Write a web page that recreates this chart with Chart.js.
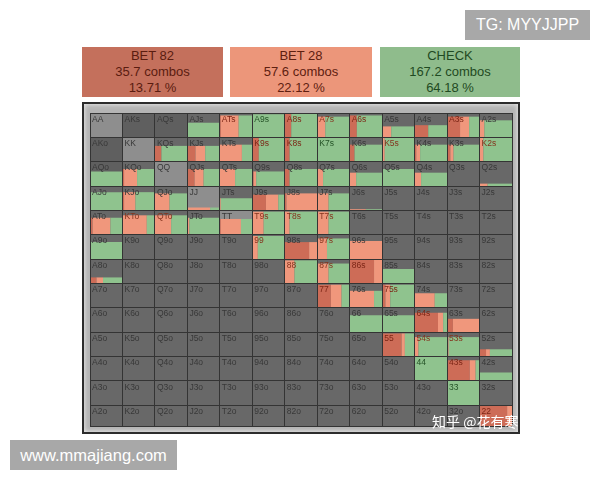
<!DOCTYPE html>
<html>
<head>
<meta charset="utf-8">
<script src="https://cdn.jsdelivr.net/npm/chart.js@4"></script>
<style>
    html, body { margin: 0; padding: 0; background: #fff; }
    body { width: 600px; height: 480px; position: relative; overflow: hidden; font-family: "Liberation Sans", Arial, sans-serif; }
    .stamp { position: absolute; background: #a8a8a8; color: #fff; text-align: center; }
    #tg { left: 465px; top: 10px; width: 125px; height: 30px; line-height: 30px; font-size: 16px; }
    #site { left: 10px; top: 440px; width: 167px; height: 30px; line-height: 30px; font-size: 16.5px; }
    .action { position: absolute; top: 47px; height: 50px; font-size: 13px; line-height: 16px; text-align: center; padding-top: 1px; box-sizing: border-box; }
    #frame { position: absolute; left: 82px; top: 102px; width: 438px; height: 332px; box-sizing: border-box;
        border: 2px solid #2c2c2c; background: #b4b4b4; box-shadow: inset 0 0 5px #f2f2f2; }
    #timeChart { position: absolute; left: 88px; top: 111px; filter: blur(0.6px); }
    #zhihu { position: absolute; left: 432px; top: 411px; color: #fff; font: 14px "Noto Sans CJK SC", sans-serif; white-space: nowrap; }
</style>
</head>
<body>
<div class="stamp" id="tg">TG: MYYJJPP</div>
<div id="frame"></div>
<canvas id="timeChart" width="426" height="317"></canvas>
<div id="zhihu">知乎 @花有寒</div>
<div class="stamp" id="site">www.mmajiang.com</div>
<script>
const ranks = ["A", "K", "Q", "J", "T", "9", "8", "7", "6", "5", "4", "3", "2"];

const actionNames = ["BET 82", "BET 28", "CHECK"];
const actionCombos = ["35.7 combos", "57.6 combos", "167.2 combos"];
const actionPercents = ["13.71 %", "22.12 %", "64.18 %"];

// how much of each hand is played at all (bar height in the cell), row by row
const weight = [
    [0, 0, 0, 60, 90, 95, 100, 85, 90, 45, 50, 85, 70],
    [0, 0, 65, 65, 70, 100, 100, 100, 70, 100, 70, 70, 100],
    [60, 70, 0, 70, 70, 60, 70, 70, 55, 70, 55, 0, 10],
    [75, 75, 70, 12, 50, 65, 70, 70, 5, 0, 0, 0, 0],
    [70, 80, 80, 70, 65, 95, 95, 95, 0, 0, 0, 0, 0],
    [70, 0, 0, 0, 0, 95, 70, 85, 75, 0, 0, 0, 0],
    [25, 0, 0, 0, 0, 0, 95, 82, 100, 60, 0, 0, 0],
    [0, 0, 0, 0, 0, 0, 0, 95, 70, 95, 60, 0, 0],
    [0, 0, 0, 0, 0, 0, 0, 0, 70, 70, 80, 55, 0],
    [0, 0, 0, 0, 0, 0, 0, 0, 0, 95, 80, 80, 30],
    [0, 0, 0, 0, 0, 0, 0, 0, 0, 0, 100, 85, 35],
    [0, 0, 0, 0, 0, 0, 0, 0, 0, 0, 0, 100, 0],
    [0, 0, 0, 0, 0, 0, 0, 0, 0, 0, 0, 0, 100]
];

// share of each action inside the played part, in percent
const bet82 = [
    [0, 0, 0, 0, 3, 0, 20, 0, 22, 0, 42, 40, 0],
    [0, 0, 20, 25, 0, 20, 15, 0, 15, 0, 5, 10, 0],
    [0, 5, 0, 22, 0, 4, 15, 0, 0, 0, 0, 0, 0],
    [0, 5, 0, 0, 0, 42, 5, 0, 0, 0, 0, 0, 0],
    [8, 0, 0, 0, 3, 0, 0, 0, 0, 0, 0, 0, 0],
    [0, 0, 0, 0, 0, 0, 75, 0, 0, 0, 0, 0, 0],
    [20, 0, 0, 0, 0, 0, 0, 0, 75, 0, 0, 0, 0],
    [0, 0, 0, 0, 0, 0, 0, 42, 0, 10, 0, 0, 0],
    [0, 0, 0, 0, 0, 0, 0, 0, 0, 0, 72, 18, 0],
    [0, 0, 0, 0, 0, 0, 0, 0, 0, 60, 0, 0, 20],
    [0, 0, 0, 0, 0, 0, 0, 0, 0, 0, 0, 70, 0],
    [0, 0, 0, 0, 0, 0, 0, 0, 0, 0, 0, 0, 0],
    [0, 0, 0, 0, 0, 0, 0, 0, 0, 0, 0, 0, 85]
];
const bet28 = [
    [0, 0, 0, 0, 55, 0, 0, 25, 0, 28, 0, 28, 15],
    [0, 0, 0, 30, 68, 0, 0, 0, 0, 8, 12, 10, 12],
    [0, 40, 0, 28, 47, 8, 0, 18, 20, 2, 20, 0, 25],
    [0, 35, 45, 70, 3, 38, 95, 35, 50, 0, 0, 0, 0],
    [55, 75, 50, 6, 62, 35, 15, 35, 0, 0, 0, 0, 0],
    [2, 0, 0, 0, 0, 17, 25, 30, 100, 0, 0, 0, 0],
    [20, 0, 0, 0, 0, 0, 30, 35, 25, 0, 0, 0, 0],
    [0, 0, 0, 0, 0, 0, 0, 33, 75, 15, 62, 0, 0],
    [0, 0, 0, 0, 0, 0, 0, 0, 0, 0, 16, 82, 0],
    [0, 0, 0, 0, 0, 0, 0, 0, 0, 10, 12, 5, 12],
    [0, 0, 0, 0, 0, 0, 0, 0, 0, 0, 0, 18, 0],
    [0, 0, 0, 0, 0, 0, 0, 0, 0, 0, 0, 0, 0],
    [0, 0, 0, 0, 0, 0, 0, 0, 0, 0, 0, 0, 15]
];
const check = [
    [0, 0, 0, 100, 42, 100, 80, 75, 78, 72, 58, 32, 85],
    [0, 0, 80, 45, 32, 80, 85, 100, 85, 92, 83, 80, 88],
    [100, 55, 0, 50, 53, 88, 85, 82, 80, 98, 80, 0, 75],
    [100, 60, 55, 30, 97, 20, 0, 65, 50, 0, 0, 0, 0],
    [37, 25, 50, 94, 35, 65, 85, 65, 0, 0, 0, 0, 0],
    [98, 0, 0, 0, 0, 83, 0, 70, 0, 0, 0, 0, 0],
    [60, 0, 0, 0, 0, 0, 70, 65, 0, 100, 0, 0, 0],
    [0, 0, 0, 0, 0, 0, 0, 25, 25, 75, 38, 0, 0],
    [0, 0, 0, 0, 0, 0, 0, 0, 100, 100, 12, 0, 0],
    [0, 0, 0, 0, 0, 0, 0, 0, 0, 30, 88, 95, 68],
    [0, 0, 0, 0, 0, 0, 0, 0, 0, 0, 100, 12, 100],
    [0, 0, 0, 0, 0, 0, 0, 0, 0, 0, 0, 100, 0],
    [0, 0, 0, 0, 0, 0, 0, 0, 0, 0, 0, 0, 0]
];

const actionColors = ["#cd6c57", "#f0977c", "#8fc38e"];
const actionBoxColors = ["#c4705c", "#ec967a", "#8fbc8c"];
const actionTextColors = ["#5a1c10", "#5e2010", "#1f4a22"];
const actionLefts = [82, 230, 380];
const actionWidths = [141, 142, 140];

actionNames.forEach((name, i) => {
    const box = document.createElement("div");
    box.className = "action";
    box.style.left = actionLefts[i] + "px";
    box.style.width = actionWidths[i] + "px";
    box.style.background = actionBoxColors[i];
    box.style.color = actionTextColors[i];
    box.innerHTML = name + "<br>" + actionCombos[i] + "<br>" + actionPercents[i];
    document.body.appendChild(box);
});

function handName(row, col) {
    if (row === col) return ranks[row] + ranks[col];
    if (row < col) return ranks[row] + ranks[col] + "s";
    return ranks[col] + ranks[row] + "o";
}

// bars on the linear x axis, x0/x1 give the real left and right edge
function greyCells() {
    const out = [];
    ranks.forEach((_, row) => ranks.forEach((_, col) => {
        out.push({ x: col + 0.5, y: [row, row + 1], x0: col, x1: col + 1, row, col });
    }));
    return out;
}

function actionCells(series, before) {
    const out = [];
    ranks.forEach((_, row) => ranks.forEach((_, col) => {
        const share = series[row][col];
        if (!share || !weight[row][col]) return;
        let start = 0;
        before.forEach(s => { start += s[row][col]; });
        const x0 = col + start / 100;
        const x1 = col + (start + share) / 100;
        out.push({ x: (x0 + x1) / 2, y: [row + 1 - weight[row][col] / 100, row + 1], x0, x1 });
    }));
    return out;
}

function greyFor(ctx) {
    const d = ctx.raw;
    if (!d) return "#676767";
    if (d.row === d.col && d.row < 5) return "#8e8e8e";
    if (d.row + d.col <= 2) return "#5f5f5f";
    return "#686868";
}

// bar widths come from x0/x1 instead of the bar ruler
const cellWidths = {
    id: "cellWidths",
    afterDatasetsUpdate(chart) {
        const xs = chart.scales.x;
        chart.data.datasets.forEach((ds, i) => {
            chart.getDatasetMeta(i).data.forEach((bar, j) => {
                const left = xs.getPixelForValue(ds.data[j].x0);
                const right = xs.getPixelForValue(ds.data[j].x1);
                bar.x = (left + right) / 2;
                bar.width = right - left;
            });
        });
    }
};

const handLabels = {
    id: "handLabels",
    afterDraw(chart) {
        const c = chart.ctx;
        const xs = chart.scales.x;
        const ys = chart.scales.y;
        c.save();
        c.font = "8.5px 'Liberation Sans', Arial, sans-serif";
        c.textBaseline = "top";
        ranks.forEach((_, row) => ranks.forEach((_, col) => {
            let color = "#383838";
            if (weight[row][col] >= 80) {
                if (bet82[row][col] > 0) color = "#7c2616";
                else if (bet28[row][col] > 0) color = "#84341e";
                else color = "#245226";
            }
            c.fillStyle = color;
            c.fillText(handName(row, col), xs.getPixelForValue(col) + 2, ys.getPixelForValue(row) + 2);
        }));
        c.restore();
    }
};

const ctx = document.getElementById("timeChart").getContext("2d");
window.myChart = new Chart(ctx, {
    type: "bar",
    data: {
        datasets: [
            { label: "FOLD", data: greyCells(), backgroundColor: greyFor, grouped: false, order: 4 },
            { label: actionNames[0], data: actionCells(bet82, []), backgroundColor: actionColors[0], grouped: false, order: 3 },
            { label: actionNames[1], data: actionCells(bet28, [bet82]), backgroundColor: actionColors[1], grouped: false, order: 2 },
            { label: actionNames[2], data: actionCells(check, [bet82, bet28]), backgroundColor: actionColors[2], grouped: false, order: 1 }
        ]
    },
    plugins: [cellWidths, handLabels],
    options: {
        responsive: false,
        animation: false,
        events: [],
        layout: { padding: { left: 2, right: 2, top: 2, bottom: 2 } },
        plugins: { legend: { display: false }, tooltip: { enabled: false } },
        scales: {
            x: {
                type: "linear", min: 0, max: 13, offset: false,
                ticks: { display: false, stepSize: 1 },
                border: { display: false },
                grid: { color: "#343434", lineWidth: 1, drawTicks: false, offset: false, z: 1 }
            },
            y: {
                type: "linear", min: 0, max: 12.85, reverse: true,
                ticks: { display: false, stepSize: 1 },
                border: { display: false },
                grid: { color: "#343434", lineWidth: 1, drawTicks: false, z: 1 }
            }
        }
    }
});
</script>
</body>
</html>
